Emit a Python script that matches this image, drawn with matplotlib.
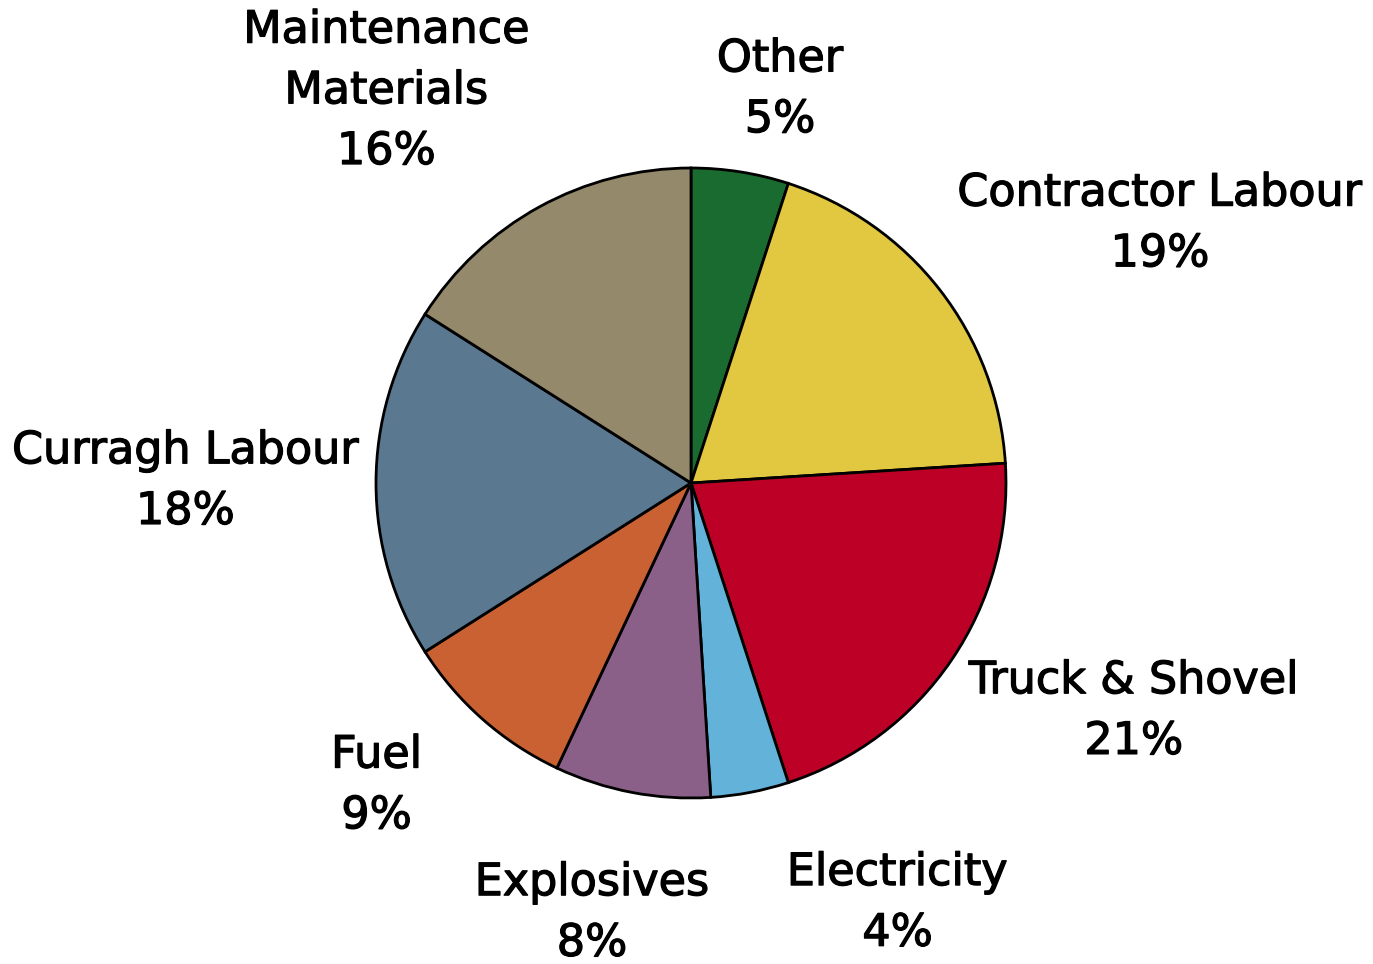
import matplotlib
matplotlib.use("Agg")
import matplotlib.pyplot as plt
import matplotlib.patheffects as pe

categories = ["Other", "Contractor Labour", "Truck & Shovel", "Electricity",
              "Explosives", "Fuel", "Curragh Labour", "Maintenance\nMaterials"]
shares = [5, 19, 21, 4, 8, 9, 18, 16]
colors = ["#1a6b30", "#e2c840", "#bd0026", "#62b2d9",
          "#8a5f88", "#c96132", "#5b7891", "#94896a"]

# label centres, in units of the pie radius
label_pos = [(0.283, 1.25), (1.489, 0.824), (1.406, -0.724), (0.656, -1.333),
             (-0.314, -1.365), (-0.998, -0.96), (-1.605, 0.006), (-0.967, 1.245)]

W, H, DPI = 1373, 964, 100
cx, cy, R = 691, 483, 315

fig = plt.figure(figsize=(W / DPI, H / DPI), dpi=DPI)
ax = fig.add_axes([0, 0, 1, 1])
ax.pie(shares, colors=colors, startangle=90, counterclock=False,
       radius=1.0, wedgeprops=dict(edgecolor="black", linewidth=2.0))
ax.set_xlim(-cx / R, (W - cx) / R)
ax.set_ylim(-(H - cy) / R, cy / R)
ax.set_aspect("auto")
ax.axis("off")

for name, val, (x, y) in zip(categories, shares, label_pos):
    ax.text(x, y, f"{name}\n{val}%", ha="center", va="center",
            fontsize=32, family="DejaVu Sans", linespacing=1.52,
            path_effects=[pe.withStroke(linewidth=0.9, foreground="black")])

fig.savefig("out.png", dpi=DPI)
